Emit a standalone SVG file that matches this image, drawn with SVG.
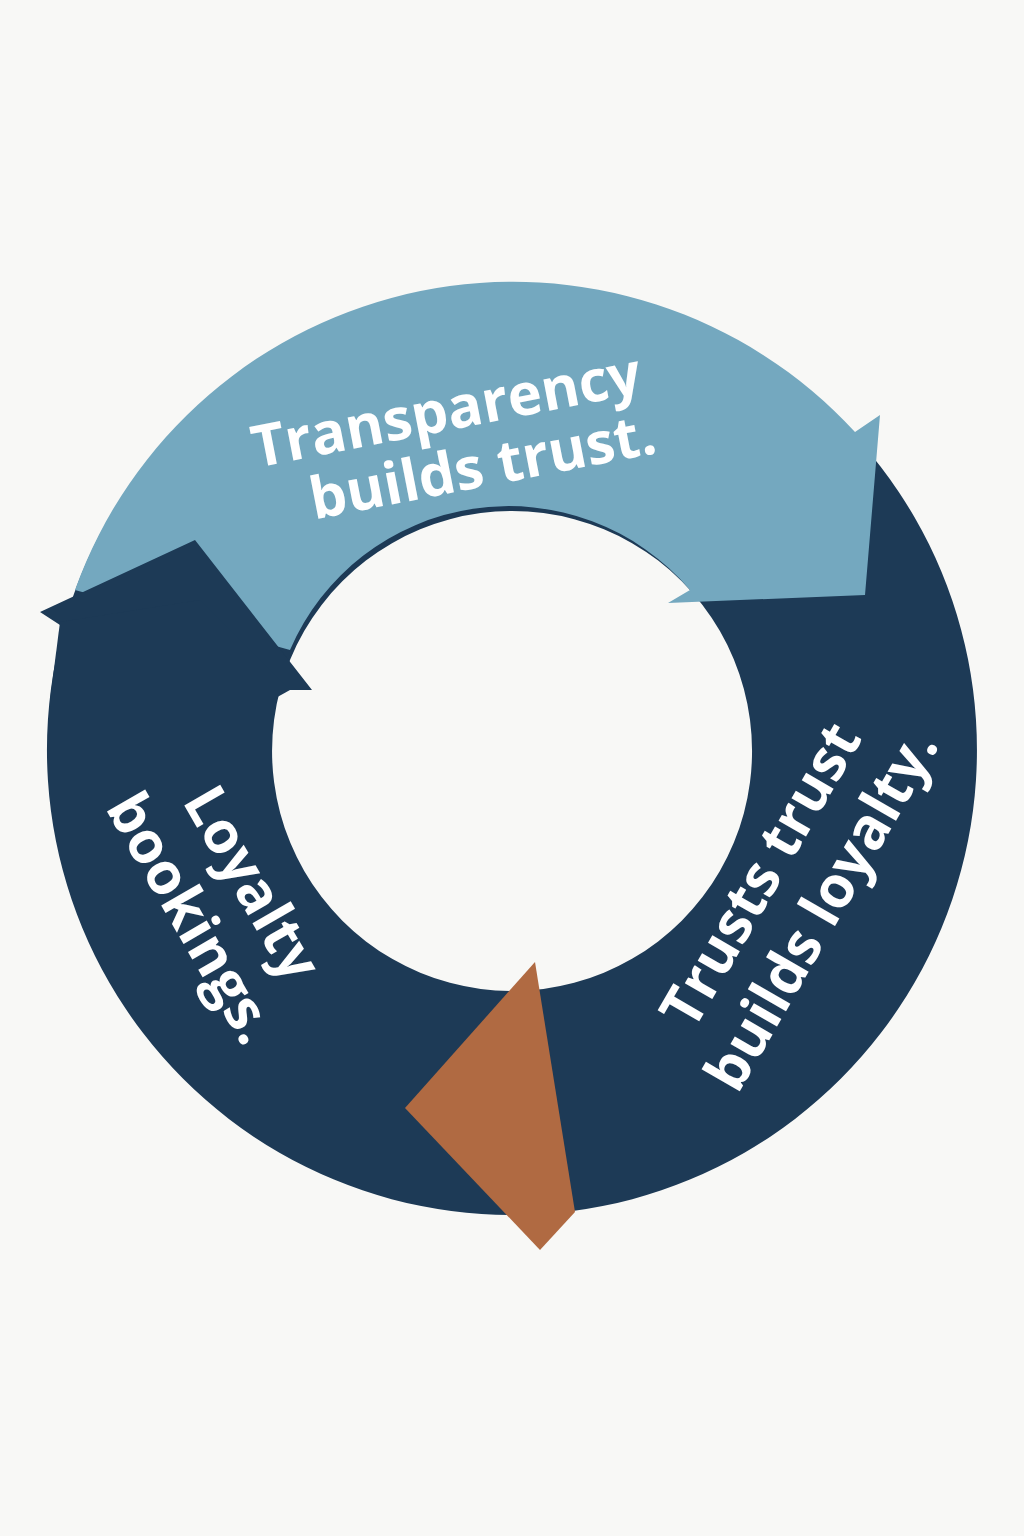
<svg xmlns="http://www.w3.org/2000/svg" width="1024" height="1536" viewBox="0 0 1024 1536">
<style>
.t{font-family:"Open Sans","Liberation Sans",sans-serif;font-weight:700;font-size:58px;fill:#ffffff;text-anchor:middle}
</style>
<rect width="1024" height="1536" fill="#f8f8f6"/>
<g id="ring">
<path d="M512,285 A465,465 0 1 1 511.9,285 Z M512,511 A240,240 0 1 0 512.1,511 Z" fill="#1d3a56" fill-rule="evenodd"/>
</g>
<g id="connectors">
<path id="arrow-blue" d="M75,590 A465,465 0 0 1 855,432 L880,415 L865,595 L668,603 L690,590 A238,238 0 0 0 290,650 Z" fill="#74a8bf"/>
<polygon id="arrow-dark" points="40,612 195,540 312,690 285,690 262,690 272,680 60,625" fill="#1d3a56"/>
<polygon id="arrow-dark-body" points="60,622 200,600 290,690 272,700 50,700" fill="#1d3a56"/>
<polygon id="arrow-orange" points="535,962 575,1212 540,1250 405,1108" fill="#b06a42"/>
</g>
<g id="node-transparency">
<text class="t" transform="translate(450,430) rotate(-11)"><tspan x="0" y="0">Transparency</tspan><tspan x="25" y="62">builds trust.</tspan></text>
</g>
<g id="node-trust">
<text class="t" transform="translate(778,885) rotate(-60)"><tspan x="0" y="0">Trusts trust</tspan><tspan x="0" y="70">builds loyalty.</tspan></text>
</g>
<g id="node-loyalty">
<text class="t" transform="translate(235,893) rotate(60)"><tspan x="0" y="0">Loyalty</tspan><tspan x="0" y="70">bookings.</tspan></text>
</g>
</svg>
